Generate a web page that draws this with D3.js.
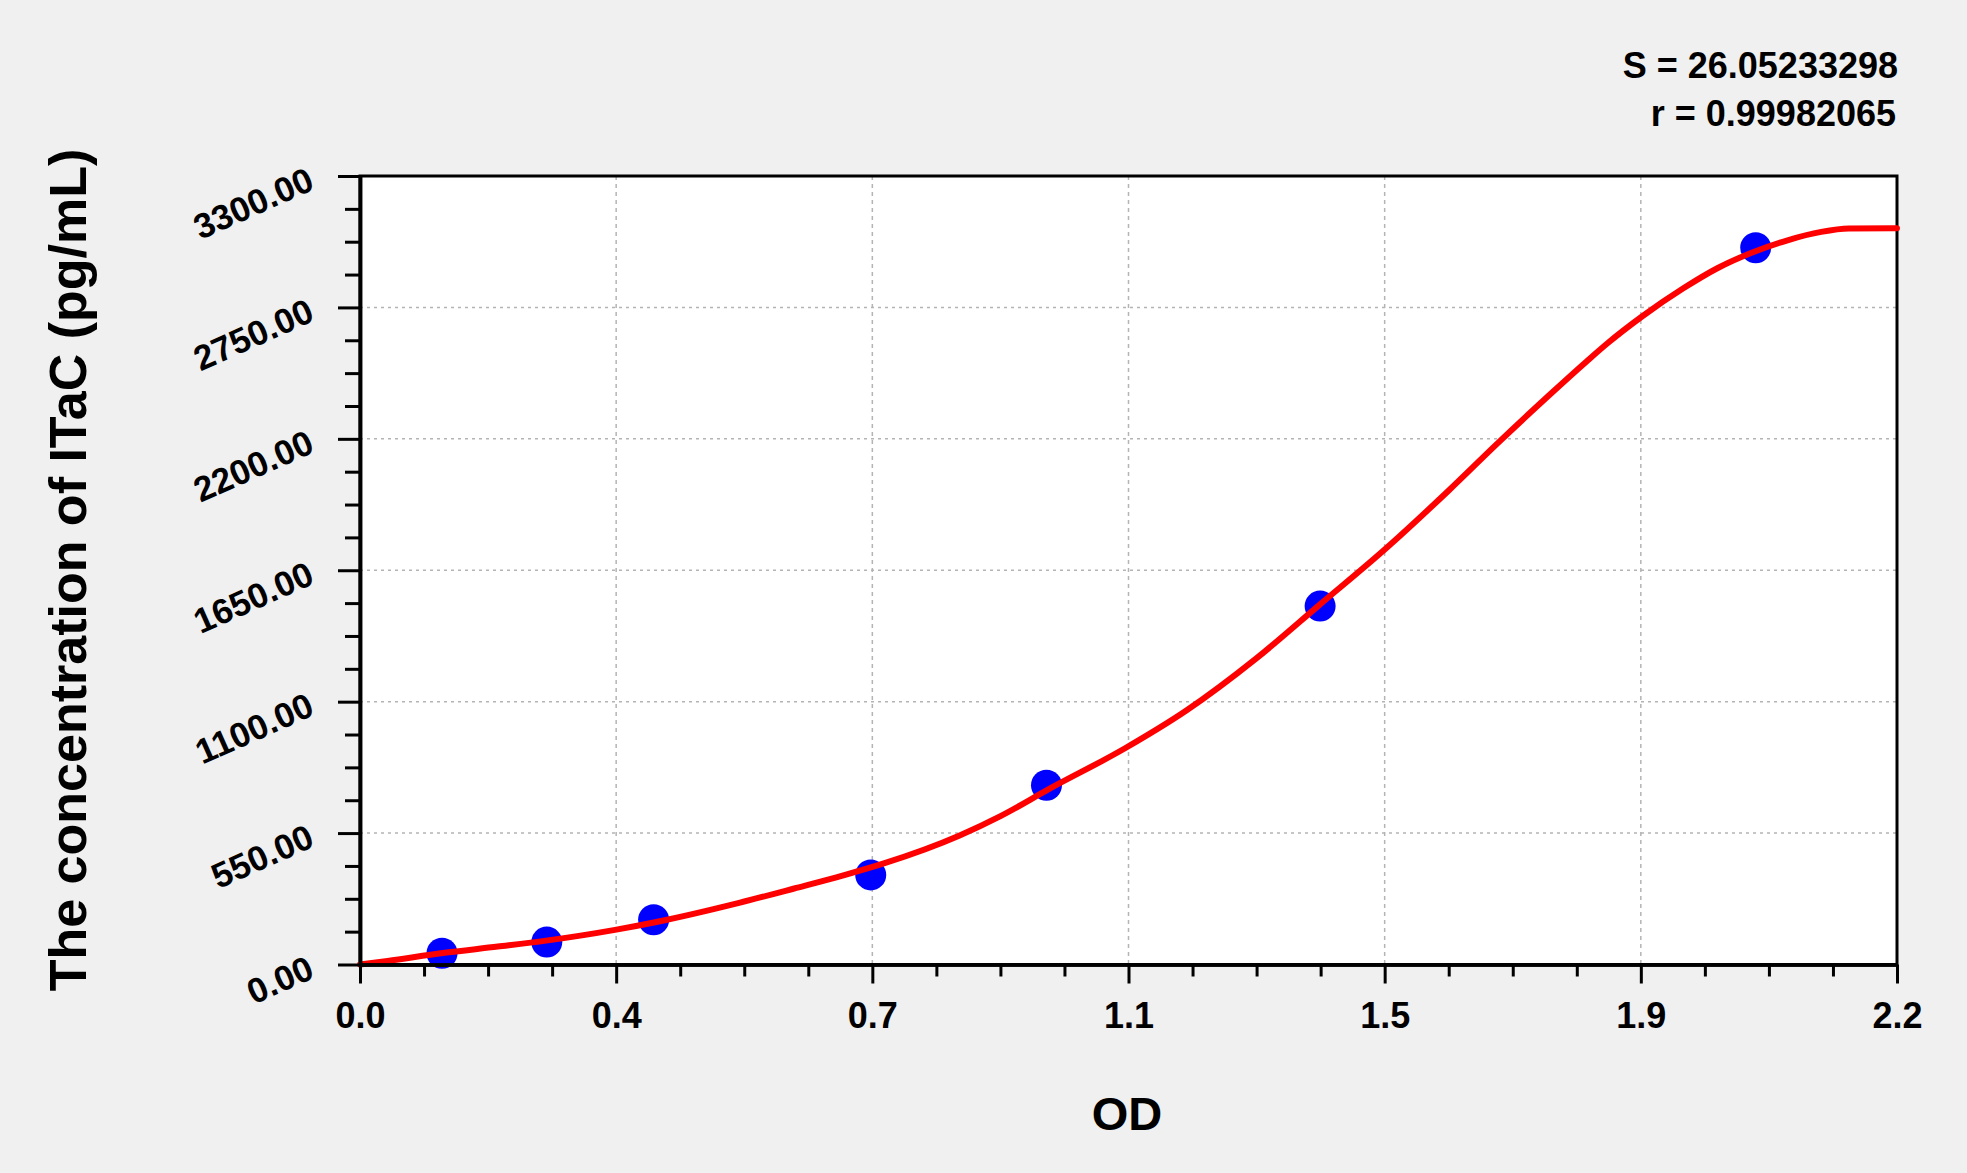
<!DOCTYPE html>
<html>
<head>
<meta charset="utf-8">
<script src="https://cdn.jsdelivr.net/npm/d3@7"></script>
<style>
  html, body { margin: 0; padding: 0; background: #f0f0f0; }
  svg { display: block; }
  text { font-family: "Liberation Sans", Arial, sans-serif; font-weight: bold; fill: #000; }
</style>
</head>
<body>
<svg id="chart" width="1967" height="1173"></svg>
<script>
// ---- data ----
const standardOD   = [0.119, 0.271, 0.426, 0.741, 0.996, 1.393, 2.025];
const standardConc = [46.875, 93.75, 187.5, 375, 750, 1500, 3000];

const curveOD   = [0.00, 0.04, 0.12, 0.20, 0.27, 0.37, 0.43, 0.55, 0.63, 0.70, 0.76, 0.87, 0.93, 1.00, 1.11, 1.20, 1.30, 1.39, 1.49, 1.58, 1.65, 1.73, 1.78, 1.81, 1.86, 1.92, 1.97, 2.02, 2.07, 2.12, 2.16, 2.23];
const curveConc = [0, 15, 48, 75, 100, 145, 178, 258, 318, 372, 423, 540, 622, 735, 905, 1065, 1280, 1500, 1745, 1985, 2180, 2395, 2525, 2600, 2712, 2830, 2915, 2980, 3030, 3066, 3080, 3081];

const xTickLabels = ["0.0", "0.4", "0.7", "1.1", "1.5", "1.9", "2.2"];
const xMax = 2.23;
const yTickValues = [0, 550, 1100, 1650, 2200, 2750, 3300];
const statsLines = ["S = 26.05233298", "r = 0.99982065"];
const xTitle = "OD";
const yTitle = "The concentration of ITaC (pg/mL)";

// ---- layout ----
const W = 1967, H = 1173;
const pLeft = 360, pRight = 1897, pTop = 176, pBottom = 964.5;

const svg = d3.select("#chart");
svg.append("rect").attr("width", W).attr("height", H).attr("fill", "#f0f0f0");

const x = d3.scaleLinear().domain([0, xMax]).range([pLeft, pRight]);
const y = d3.scaleLinear().domain([0, 3300]).range([pBottom, pTop]);

const xMajor = d3.range(7).map(i => i * xMax / 6);
const xMinor = d3.range(25).map(i => i * xMax / 24).filter((d, i) => i % 4 !== 0);
const yMinor = d3.range(25).map(i => i * 137.5).filter((d, i) => i % 4 !== 0);

// plot background
svg.append("rect").attr("x", pLeft).attr("y", pTop)
  .attr("width", pRight - pLeft).attr("height", pBottom - pTop).attr("fill", "#ffffff");

// grid
const grid = svg.append("g");
grid.selectAll("line.v").data(xMajor.slice(1, 6)).join("line").attr("class", "v")
  .attr("x1", d => x(d)).attr("x2", d => x(d)).attr("y1", pTop).attr("y2", pBottom)
  .attr("stroke", "#b4b4b4").attr("stroke-width", 1.5).attr("stroke-dasharray", "4,4");
grid.selectAll("line.h").data(yTickValues.slice(1, 6)).join("line").attr("class", "h")
  .attr("x1", pLeft).attr("x2", pRight).attr("y1", d => y(d)).attr("y2", d => y(d))
  .attr("stroke", "#b4b4b4").attr("stroke-width", 1.5).attr("stroke-dasharray", "3,4");

// frame
svg.append("rect").attr("x", pLeft).attr("y", pTop)
  .attr("width", pRight - pLeft).attr("height", pBottom - pTop)
  .attr("fill", "none").attr("stroke", "#000").attr("stroke-width", 3);

// curve
const line = d3.line().x((d, i) => x(curveOD[i])).y((d, i) => y(curveConc[i])).curve(d3.curveMonotoneX);

// points
svg.append("g").selectAll("circle").data(standardOD).join("circle")
  .attr("cx", d => x(d)).attr("cy", (d, i) => y(standardConc[i])).attr("r", 15.5)
  .attr("fill", "#0000ff");

// curve drawn over the dots
svg.append("path").datum(curveOD).attr("d", line)
  .attr("fill", "none").attr("stroke", "#ff0000").attr("stroke-width", 6)
  .attr("stroke-linejoin", "round").attr("stroke-linecap", "round");

// x axis
const xAxisMinor = svg.append("g").attr("transform", `translate(0,${pBottom})`)
  .call(d3.axisBottom(x).tickValues(xMinor).tickSize(12).tickSizeOuter(0).tickFormat(""));
const xAxis = svg.append("g").attr("transform", `translate(0,${pBottom})`)
  .call(d3.axisBottom(x).tickValues(xMajor).tickSize(19).tickSizeOuter(0).tickPadding(19)
    .tickFormat((d, i) => xTickLabels[i]));
xAxis.selectAll("text").attr("font-size", 36).attr("font-family", '"Liberation Sans", Arial, sans-serif')
  .attr("font-weight", "bold").attr("fill", "#000");

// y axis
const yAxisMinor = svg.append("g").attr("transform", `translate(${pLeft},0)`)
  .call(d3.axisLeft(y).tickValues(yMinor).tickSize(15).tickSizeOuter(0).tickFormat(""));
const yAxis = svg.append("g").attr("transform", `translate(${pLeft},0)`)
  .call(d3.axisLeft(y).tickValues(yTickValues).tickSize(22).tickSizeOuter(0)
    .tickFormat(d => d.toFixed(2)));
yAxis.selectAll("text")
  .attr("x", null).attr("dy", null)
  .attr("text-anchor", "end")
  .attr("transform", "translate(-44,12) rotate(-24)")
  .attr("font-size", 35).attr("font-family", '"Liberation Sans", Arial, sans-serif')
  .attr("font-weight", "bold").attr("fill", "#000");

[xAxisMinor, xAxis, yAxisMinor, yAxis].forEach(g => {
  g.selectAll("line").attr("stroke", "#000").attr("stroke-width", 3);
  g.select(".domain").attr("stroke", "#000").attr("stroke-width", 3.5);
});

// titles
svg.append("text").attr("x", 1127).attr("y", 1130).attr("text-anchor", "middle")
  .attr("font-size", 47).text(xTitle);
svg.append("text").attr("transform", "translate(86,570) rotate(-90)").attr("text-anchor", "middle")
  .attr("font-size", 52).text(yTitle);

// stats
svg.append("g").selectAll("text").data(statsLines).join("text")
  .attr("x", (d, i) => i === 0 ? 1898 : 1896).attr("y", (d, i) => 78 + i * 48)
  .attr("text-anchor", "end").attr("font-size", 36).text(d => d);
</script>
</body>
</html>
